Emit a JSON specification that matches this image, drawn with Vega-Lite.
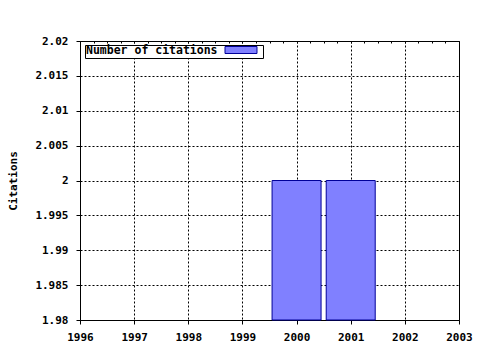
{
  "$schema": "https://vega.github.io/schema/vega-lite/v6.json",
  "width": 379,
  "height": 279,
  "autosize": "none",
  "padding": {"left": 80, "top": 41, "right": 21, "bottom": 30},
  "background": "white",
  "config": {
    "view": {"stroke": "black", "strokeWidth": 1},
    "font": "DejaVu Sans Mono",
    "axis": {
      "labelFont": "DejaVu Sans Mono",
      "labelFontWeight": "bold",
      "labelFontSize": 11,
      "labelColor": "black",
      "titleFont": "DejaVu Sans Mono",
      "titleFontWeight": "bold",
      "titleFontSize": 11,
      "titleColor": "black",
      "domainColor": "black",
      "tickColor": "black",
      "gridColor": "black",
      "gridDash": [2, 2],
      "gridOpacity": 1
    }
  },
  "data": {"values": [{"year": 2000, "citations": 2}, {"year": 2001, "citations": 2}]},
  "encoding": {
    "y": {
      "field": "citations",
      "type": "quantitative",
      "scale": {"domain": [1.98, 2.02], "nice": false, "zero": false},
      "axis": {
        "title": "Citations",
        "values": [1.98, 1.985, 1.99, 1.995, 2, 2.005, 2.01, 2.015, 2.02],
        "format": "~g",
        "tickSize": 4,
        "labelPadding": 8,
        "titlePadding": 16,
        "labelFlush": false,
        "labelOverlap": false
      }
    }
  },
  "layer": [
    {
      "mark": {"type": "bar", "width": 49, "stroke": "#000099", "strokeWidth": 1},
      "encoding": {
        "x": {
          "field": "year",
          "type": "quantitative",
          "scale": {"domain": [1996, 2003], "nice": false, "zero": false, "padding": 0},
          "axis": {
            "orient": "bottom",
            "title": null,
            "values": [1996, 1996.25, 1996.5, 1996.75, 1997, 1997.25, 1997.5, 1997.75, 1998, 1998.25, 1998.5, 1998.75, 1999, 1999.25, 1999.5, 1999.75, 2000, 2000.25, 2000.5, 2000.75, 2001, 2001.25, 2001.5, 2001.75, 2002, 2002.25, 2002.5, 2002.75, 2003],
            "format": "d",
            "labelExpr": "datum.value % 1 == 0 ? datum.label : ''",
            "labelPadding": 7,
            "tickSize": {"condition": {"test": "datum.value % 1 == 0", "value": 4}, "value": 2},
            "gridOpacity": {"condition": {"test": "datum.value % 1 == 0", "value": 1}, "value": 0},
            "labelFlush": false,
            "labelOverlap": false
          }
        },
        "y2": {"datum": 1.98},
        "color": {
          "datum": "Number of citations",
          "scale": {"range": ["#8080ff"]},
          "legend": {
            "orient": "none",
            "legendX": 5,
            "legendY": 4,
            "title": "Number of citations",
            "titleOrient": "left",
            "titleFont": "DejaVu Sans Mono",
            "titleFontWeight": "bold",
            "titleFontSize": 11.5,
            "titleColor": "black",
            "titlePadding": 19,
            "labelExpr": "' '",
            "labelOffset": 17,
            "labelFontSize": 1,
            "symbolType": "M-4.571,-1H4.571V1H-4.571Z",
            "symbolSize": 49,
            "symbolStrokeColor": "#000099",
            "symbolStrokeWidth": 1,
            "symbolOpacity": 1,
            "padding": 1,
            "strokeColor": "black",
            "fillColor": "white"
          }
        }
      }
    },
    {
      "mark": {"type": "bar", "width": 1, "opacity": 0},
      "encoding": {
        "x": {
          "field": "year",
          "type": "quantitative",
          "scale": {"domain": [1996, 2003], "nice": false, "zero": false, "padding": 0},
          "axis": {
            "orient": "top",
            "title": null,
            "values": [1996, 1996.25, 1996.5, 1996.75, 1997, 1997.25, 1997.5, 1997.75, 1998, 1998.25, 1998.5, 1998.75, 1999, 1999.25, 1999.5, 1999.75, 2000, 2000.25, 2000.5, 2000.75, 2001, 2001.25, 2001.5, 2001.75, 2002, 2002.25, 2002.5, 2002.75, 2003],
            "labels": false,
            "domain": false,
            "grid": false,
            "tickSize": -2
          }
        }
      }
    }
  ],
  "resolve": {"axis": {"x": "independent"}}
}
